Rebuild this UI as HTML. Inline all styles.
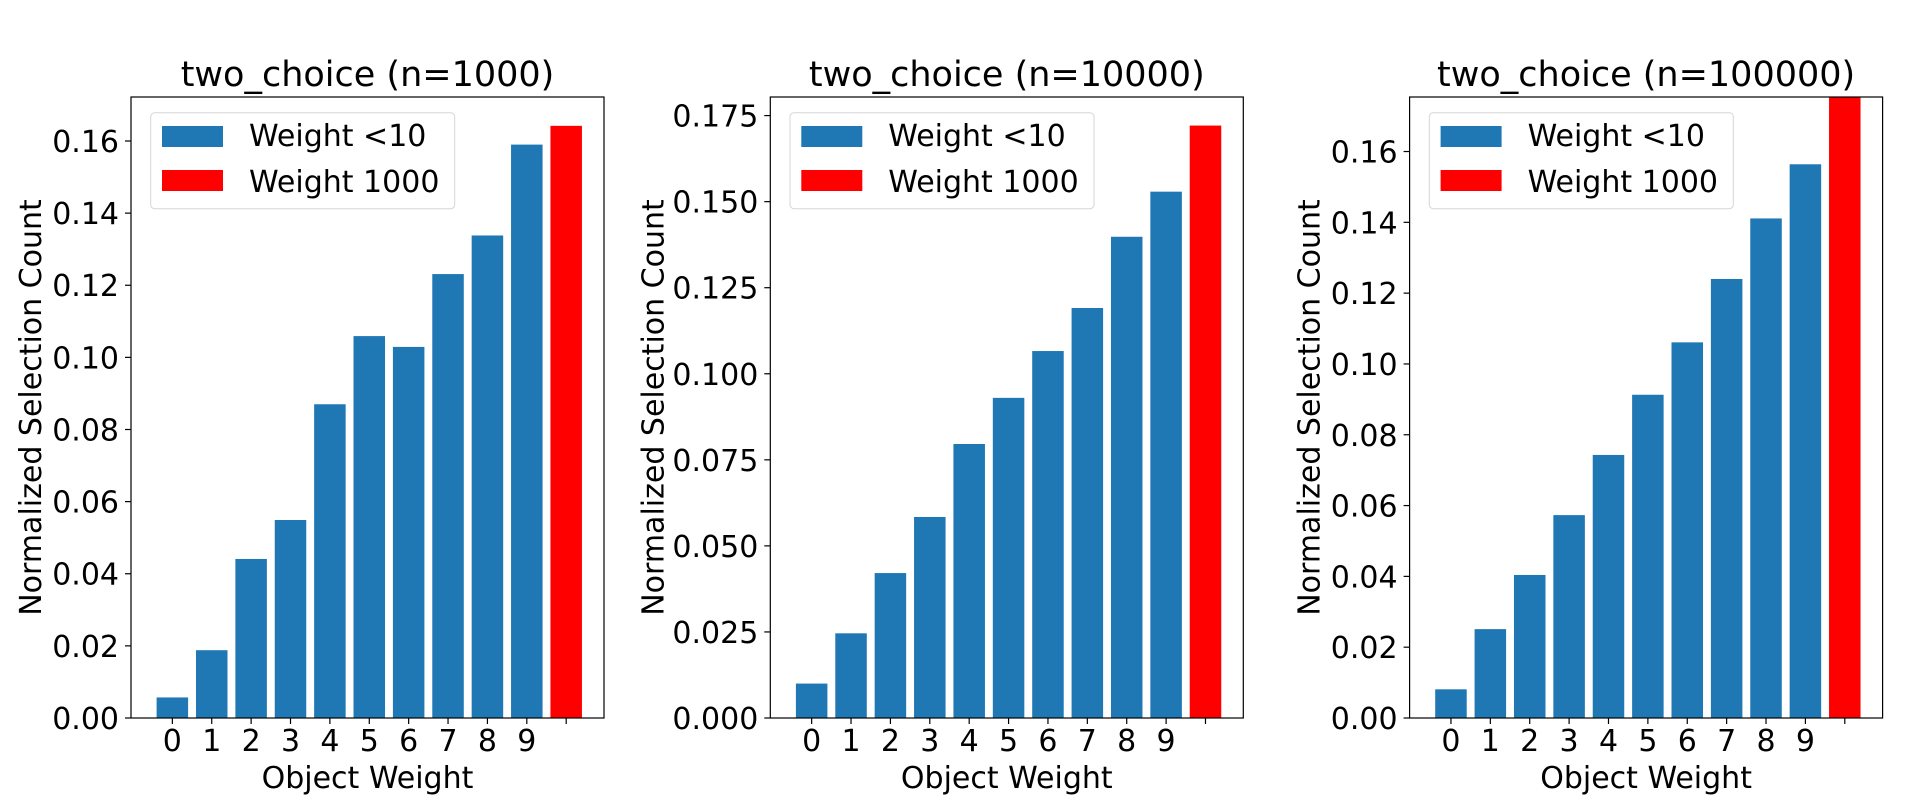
<!DOCTYPE html>
<html><head><meta charset="utf-8"><style>
html,body{margin:0;padding:0;background:#fff;}
svg{display:block;font-family:"DejaVu Sans","Liberation Sans",sans-serif;}
</style></head><body>
<svg id="chart" width="1909" height="807" viewBox="0 0 1909 807" xmlns="http://www.w3.org/2000/svg"></svg>
<script>
const categories = ["0","1","2","3","4","5","6","7","8","9",""];
const titles = ["two_choice (n=1000)","two_choice (n=10000)","two_choice (n=100000)"];
const valuesN1000 = [0.0057,0.0188,0.0441,0.0549,0.087,0.1059,0.1029,0.1231,0.1338,0.159,0.1642];
const valuesN10000 = [0.0100,0.0246,0.0421,0.0584,0.0796,0.0930,0.1066,0.1191,0.1398,0.1529,0.1721];
const valuesN100000 = [0.0081,0.0251,0.0404,0.0573,0.0743,0.0913,0.1061,0.1240,0.1411,0.1564,0.19];
const yMaxes = [0.1722,0.1804,0.1754];
const ticksA = [0,0.02,0.04,0.06,0.08,0.10,0.12,0.14,0.16];
const ticksB = [0,0.025,0.05,0.075,0.1,0.125,0.15,0.175];
const tickDecimals = [2,3,2];
const legendLabels = ["Weight <10","Weight 1000"];

const svg = document.getElementById('chart');
const NS = "http://www.w3.org/2000/svg";
function mk(tag, attrs, parent){const e=document.createElementNS(NS,tag);for(const k in attrs)e.setAttribute(k,attrs[k]);(parent||svg).appendChild(e);return e;}

const allValues=[valuesN1000,valuesN10000,valuesN100000];
const allTicks=[ticksA,ticksB,ticksA];
const panelLeft=[131,770.3,1409.6];
const ylabelOffset=[90,107,90];
const W=473, TOP=97, BOT=718;
const XMIN=-1.05, XMAX=10.96;

for(let p=0;p<3;p++){
  const L=panelLeft[p];
  const g=mk('g',{});
  
  
  const xs=v=>L+(v-XMIN)/(XMAX-XMIN)*W;
  const ys=v=>BOT-v/yMaxes[p]*(BOT-TOP);
  const clip=mk('clipPath',{id:'clip'+p},g);
  mk('rect',{x:L,y:TOP,width:W,height:BOT-TOP},clip);
  const bars=mk('g',{'clip-path':'url(#clip'+p+')'},g);
  allValues[p].forEach((v,i)=>{
    const r=mk('rect',{x:xs(i-0.4),y:ys(v),width:xs(0.8)-xs(0),height:BOT-ys(v),fill:i===10?'#ff0000':'#1f77b4'},bars);
    
    
  });
  const frame=mk('rect',{x:L,y:TOP,width:W,height:BOT-TOP,fill:'none',stroke:'#000','stroke-width':1.2},g);
  
  
  categories.forEach((c,i)=>{
    mk('line',{x1:xs(i),x2:xs(i),y1:BOT,y2:BOT+6,stroke:'#000','stroke-width':1.2},g);
    if(c!==''){const t=mk('text',{x:xs(i),y:751,'font-size':30,'text-anchor':'middle',fill:'#000'},g);t.textContent=c;
      
      }
  });
  allTicks[p].forEach(v=>{
    const y=ys(v);
    mk('line',{x1:L-6,x2:L,y1:y,y2:y,stroke:'#000','stroke-width':1.2},g);
    const t=mk('text',{x:L-12,y:y+11,'font-size':30,'text-anchor':'end',fill:'#000'},g);
    t.textContent=v.toFixed(tickDecimals[p]);
    
    
  });
  const tt=mk('text',{x:L+W/2,y:86,'font-size':35,'text-anchor':'middle',fill:'#000'},g);
  tt.textContent=titles[p];
  
  
  const xl=mk('text',{x:L+W/2,y:788,'font-size':30,'text-anchor':'middle',fill:'#000'},g);
  xl.textContent='Object Weight';
  
  
  const yl=mk('text',{x:0,y:0,'font-size':30,'text-anchor':'middle',fill:'#000',transform:'translate('+(L-ylabelOffset[p])+','+((TOP+BOT)/2)+') rotate(-90)'},g);
  yl.textContent='Normalized Selection Count';
  
  
  const lg=mk('g',{},g);
  
  
  mk('rect',{x:L+19.7,y:TOP+15.7,width:304,height:96,rx:4,fill:'#fff','fill-opacity':0.8,stroke:'#d6d6d6','stroke-width':1},lg);
  ['#1f77b4','#ff0000'].forEach((col,k)=>{
    const sw=mk('rect',{x:L+31,y:TOP+29+k*44,width:61,height:21,fill:col},lg);
    
    
    const lt=mk('text',{x:L+118,y:TOP+49+k*46,'font-size':30,fill:'#000'},lg);
    lt.textContent=legendLabels[k];
    
    
  });
}
</script>
</body></html>
